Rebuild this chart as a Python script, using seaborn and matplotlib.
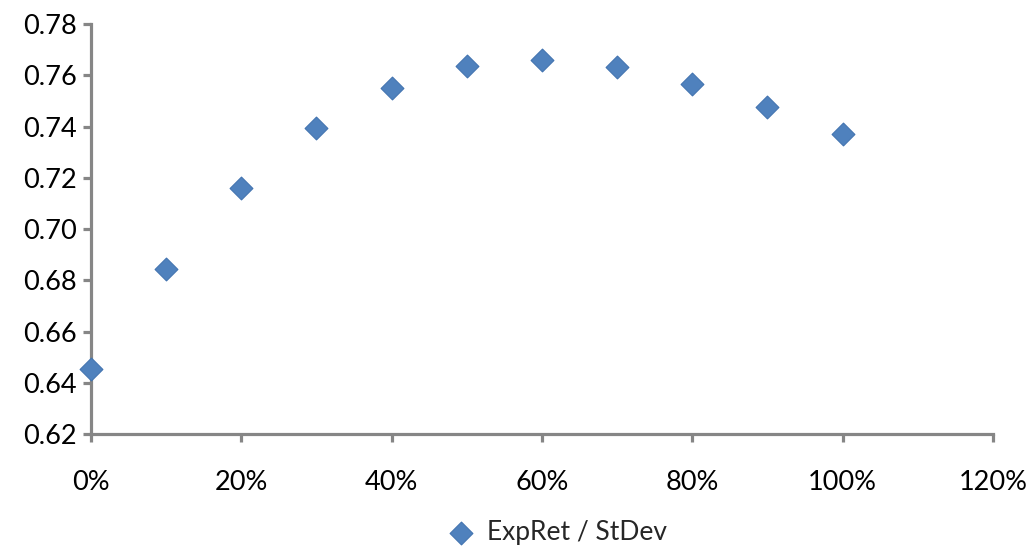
import numpy as np
import pandas as pd
import matplotlib
matplotlib.use('Agg')
import matplotlib.pyplot as plt
import seaborn as sns
from matplotlib.ticker import FuncFormatter

sns.set_style('white')
plt.rcParams['font.family'] = ['Lato', 'DejaVu Sans']

# weight of asset in portfolio and the ratio of expected return to st. dev.
weights = [0.0, 0.1, 0.2, 0.3, 0.4, 0.5, 0.6, 0.7, 0.8, 0.9, 1.0]
ratio = [0.6454, 0.6844, 0.7160, 0.7394, 0.7552, 0.7636, 0.7658, 0.7632, 0.7566, 0.7476, 0.7371]
series_name = 'ExpRet / StDev'

df = pd.DataFrame({'weight': weights, 'ratio': ratio})

fig = plt.figure(figsize=(10.29, 5.47), dpi=100)
ax = fig.add_axes([0.0884, 0.2066, 0.8766, 0.7494])

sns.scatterplot(x='weight', y='ratio', data=df, ax=ax, marker='D', s=135,
                color='#4F81BD', edgecolor='#4274B0', linewidth=0.8,
                label=series_name, clip_on=False, zorder=3)

ax.set_xlim(0, 1.2)
ax.set_ylim(0.62, 0.78)
ax.set_xticks(np.arange(0, 1.21, 0.2))
ax.set_yticks(np.arange(0.62, 0.781, 0.02))
ax.xaxis.set_major_formatter(FuncFormatter(lambda v, p: f'{v*100:.0f}%'))
ax.yaxis.set_major_formatter(FuncFormatter(lambda v, p: f'{v:.2f}'))
ax.set_xlabel('')
ax.set_ylabel('')

for side in ['top', 'right']:
    ax.spines[side].set_visible(False)
for side in ['left', 'bottom']:
    ax.spines[side].set_color('#868686')
    ax.spines[side].set_linewidth(2.3)

ax.tick_params(axis='both', which='major', direction='out', length=6, width=2.3,
               color='#868686', labelsize=19.5, labelcolor='black',
               bottom=True, left=True)
ax.tick_params(axis='x', pad=20)
ax.tick_params(axis='y', pad=4)

ax.legend_.remove()
handles, labels = ax.get_legend_handles_labels()
fig.legend(handles, labels, loc='lower center', bbox_to_anchor=(0.535, -0.04),
           frameon=False, fontsize=19, handletextpad=0.0, markerscale=1.0)

fig.savefig('out.png', dpi=100)
